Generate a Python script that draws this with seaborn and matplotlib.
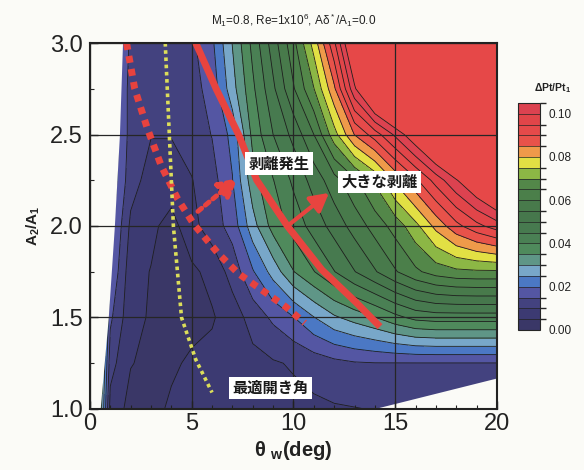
import numpy as np
import matplotlib
matplotlib.use("Agg")
import matplotlib.pyplot as plt
import seaborn as sns
from matplotlib.colors import ListedColormap, BoundaryNorm
from matplotlib.cm import ScalarMappable
from matplotlib.ticker import MultipleLocator

# ---------------- data ----------------
theta_deg = [0, 1, 2, 3, 4, 5, 6, 7, 8, 9, 10, 11, 12, 13, 14, 15, 16, 17, 18, 19, 20]
area_ratio = [1.0, 1.25, 1.5, 1.75, 2.0, 2.25, 2.5, 2.75, 3.0]

dpt_a100 = [0.060, 0.008, 0.0035, 0.004, 0.0055, 0.006, 0.0065, 0.007, 0.0075, 0.008, 0.0085,
            0.009, 0.0095, 0.0098, 0.0102, 0.0105, 0.0105, 0.0105, 0.0105, 0.0105, 0.0105]
dpt_a125 = [0.060, 0.012, 0.0052, 0.004, 0.0045, 0.0055, 0.0065, 0.0075, 0.0085, 0.0095, 0.0105,
            0.012, 0.0135, 0.0145, 0.0148, 0.0148, 0.0148, 0.0148, 0.0148, 0.0148, 0.0148]
dpt_a150 = [0.060, 0.016, 0.0065, 0.0045, 0.004, 0.004, 0.0045, 0.0075, 0.012, 0.016, 0.0198,
            0.0248, 0.0292, 0.032, 0.0348, 0.0385, 0.0415, 0.0424, 0.0424, 0.0424, 0.0424]
dpt_a175 = [0.060, 0.020, 0.007, 0.0048, 0.0035, 0.004, 0.0065, 0.012, 0.0195, 0.027, 0.0348,
            0.0398, 0.0448, 0.0498, 0.0545, 0.0595, 0.064, 0.0672, 0.0688, 0.0692, 0.0692]
dpt_a200 = [0.060, 0.022, 0.009, 0.0062, 0.003, 0.0085, 0.0125, 0.017, 0.028, 0.037, 0.042,
            0.047, 0.052, 0.057, 0.062, 0.067, 0.0735, 0.0815, 0.0885, 0.0935, 0.0975]
dpt_a225 = [0.060, 0.024, 0.012, 0.008, 0.008, 0.0098, 0.013, 0.0198, 0.033, 0.0398, 0.046,
            0.052, 0.058, 0.064, 0.071, 0.081, 0.089, 0.097, 0.1045, 0.112, 0.120]
dpt_a250 = [0.060, 0.025, 0.013, 0.0102, 0.0102, 0.012, 0.0152, 0.0215, 0.0365, 0.045, 0.0515,
            0.060, 0.073, 0.0852, 0.0925, 0.101, 0.110, 0.120, 0.130, 0.130, 0.130]
dpt_a275 = [0.060, 0.025, 0.013, 0.0105, 0.0105, 0.013, 0.017, 0.028, 0.039, 0.049, 0.0595,
            0.0698, 0.084, 0.104, 0.120, 0.130, 0.130, 0.130, 0.130, 0.130, 0.130]
dpt_a300 = [0.060, 0.025, 0.014, 0.011, 0.011, 0.014, 0.019, 0.0302, 0.0415, 0.0525, 0.0635,
            0.077, 0.094, 0.115, 0.130, 0.130, 0.130, 0.130, 0.130, 0.130, 0.130]

# limits of the computed domain (outside = no data)
left_edge_area = [1.0, 1.5, 2.0, 2.5, 3.0]
left_edge_theta = [0.5, 0.9, 1.2, 1.45, 1.6]
gap_theta = [13.9, 20.0]
gap_area_top = [1.0, 1.17]

# separation-onset line (dotted), large separation line (solid), optimum angle line
onset_theta = [1.8, 2.2, 2.8, 3.5, 4.3, 5.1, 6.3, 7.3, 8.45, 9.6, 10.55]
onset_area = [3.0, 2.75, 2.54, 2.33, 2.15, 2.01, 1.85, 1.74, 1.65, 1.56, 1.47]
large_theta = [5.2, 6.2, 7.3, 8.2, 9.7, 11.4, 13.1, 14.25]
large_area = [3.0, 2.75, 2.5, 2.25, 2.0, 1.76, 1.58, 1.45]
optimum_theta = [3.7, 3.9, 4.1, 4.5, 5.2, 6.0]
optimum_area = [3.0, 2.5, 2.0, 1.5, 1.27, 1.09]

label_texts = ["剥離発生", "大きな剥離", "最適開き角"]
label_theta = [9.3, 14.25, 8.85]
label_area = [2.34, 2.24, 1.115]
arrow_tail_theta = [5.2, 9.7]
arrow_tail_area = [2.07, 2.0]
arrow_head_theta = [7.35, 11.85]
arrow_head_area = [2.27, 2.19]

cbar_ticks = [0.00, 0.02, 0.04, 0.06, 0.08, 0.10]

# ---------------- style ----------------
sns.set_theme(style="ticks")
plt.rcParams["font.family"] = ["Liberation Sans", "DejaVu Sans"]
plt.rcParams["mathtext.fontset"] = "custom"
plt.rcParams["mathtext.rm"] = "Liberation Sans"
plt.rcParams["mathtext.it"] = "Liberation Sans:italic"
plt.rcParams["mathtext.bf"] = "Liberation Sans:bold"

bg = "#fbfbf7"
band_colors = ['#3a3767', '#3c3a72', '#43427f', '#5456a3', '#4b78c4', '#78a7c9', '#5f9687',
               '#4f8a5c', '#4a8054', '#477a4f', '#46774c', '#487a4b', '#4b7f4a', '#538749',
               '#8cb745', '#e2e044', '#ef9a4a', '#e8524a', '#e54a4a', '#e14549', '#dc4250']
over_color = '#e64848'
levels = [round(0.005 * i, 3) for i in range(22)]  # 0 .. 0.105

fig = plt.figure(figsize=(5.84, 4.70), dpi=100, facecolor=bg)
ax = fig.add_axes([0.154, 0.1298, 0.697, 0.7787])
ax.set_facecolor(bg)

Z = np.array([dpt_a100, dpt_a125, dpt_a150, dpt_a175, dpt_a200,
              dpt_a225, dpt_a250, dpt_a275, dpt_a300])
T, A = np.meshgrid(theta_deg, area_ratio)

cf = ax.contourf(T, A, Z, levels=levels + [1.0], colors=band_colors + [over_color], zorder=1)
cl = ax.contour(T, A, Z, levels=levels[1:], colors='#1e1e1e', linewidths=0.6, zorder=2)

# no-data regions
ax.fill_betweenx(left_edge_area, 0, left_edge_theta, color=bg, lw=0, zorder=2.1)
ax.fill_between(gap_theta, 1.0, gap_area_top, color=bg, lw=0, zorder=2.1)

ax.set_xlim(0, 20)
ax.set_ylim(1.0, 3.0)
ax.xaxis.set_major_locator(MultipleLocator(5))
ax.xaxis.set_minor_locator(MultipleLocator(1))
ax.yaxis.set_major_locator(MultipleLocator(0.5))
ax.yaxis.set_minor_locator(MultipleLocator(0.25))
ax.yaxis.set_major_formatter(matplotlib.ticker.FormatStrFormatter('%.1f'))
ax.tick_params(which='major', direction='in', length=6, width=1, labelsize=17,
               colors='#222222', pad=3)
ax.tick_params(which='minor', direction='in', length=3, width=0.8, colors='#222222')
ax.tick_params(axis='y', which='major', pad=5)
ax.grid(True, which='major', color='#262626', lw=0.9)
ax.set_axisbelow(False)
for s in ax.spines.values():
    s.set_linewidth(1.5)
    s.set_color('#222222')
    s.set_zorder(6)

# lines
ax.plot(onset_theta, onset_area, color='#e8423e', lw=5, linestyle=(0, (1.0, 0.9)),
        dash_capstyle='butt', zorder=4)
ax.plot(large_theta, large_area, color='#e8443f', lw=5, solid_capstyle='butt', zorder=4)
ax.plot(optimum_theta, optimum_area, color='#dcde5a', lw=2.6, linestyle=(0, (1.0, 1.0)),
        dash_capstyle='butt', zorder=4)

# arrows
ax.annotate("", xy=(arrow_head_theta[0], arrow_head_area[0]),
            xytext=(arrow_tail_theta[0], arrow_tail_area[0]),
            arrowprops=dict(arrowstyle='-|>,head_length=0.9,head_width=0.5', color='#e8423e',
                            lw=3.5, linestyle=(0, (1.0, 1.0))), zorder=5)
ax.annotate("", xy=(arrow_head_theta[1], arrow_head_area[1]),
            xytext=(arrow_tail_theta[1], arrow_tail_area[1]),
            arrowprops=dict(arrowstyle='-|>,head_length=0.9,head_width=0.5', color='#e8443f',
                            lw=3), zorder=5)

for txt, tx, ty in zip(label_texts, label_theta, label_area):
    ax.text(tx, ty, txt, ha='center', va='center', fontsize=11, fontweight='bold',
            family=['Noto Sans CJK JP', 'DejaVu Sans'], color='#1a1a1a', zorder=7,
            bbox=dict(boxstyle='square,pad=0.22', fc='white', ec='none'))

ax.set_title('M$_1$=0.8, Re=1x10$^6$, Aδ$^*$/A$_1$=0.0', fontsize=8.5, pad=13, color='#222222')
ax.set_xlabel('θ $_{\\mathbf{w}}$(deg)', fontsize=14.5, fontweight='bold', labelpad=3,
              color='#222222')
ax.set_ylabel('A$_\\mathbf{2}$/A$_\\mathbf{1}$', fontsize=11, fontweight='bold', labelpad=6,
              color='#222222')

# colorbar
cax = fig.add_axes([0.887, 0.298, 0.038, 0.483])
cmap = ListedColormap(band_colors)
norm = BoundaryNorm(levels, cmap.N)
sm = ScalarMappable(norm=norm, cmap=cmap)
cbar = fig.colorbar(sm, cax=cax, ticks=cbar_ticks, format='%.2f')
cbar.add_lines(levels[1:-1], ['#222222'] * (len(levels) - 2), [0.5] * (len(levels) - 2))
cax.tick_params(length=0, labelsize=8.5, pad=6, colors='#222222')
cbar.outline.set_linewidth(0.8)
fig.text(0.947, 0.813, 'ΔPt/Pt$_\\mathbf{1}$', ha='center', va='center', fontsize=7.5,
         fontweight='bold', color='#222222')

fig.savefig('out.png', dpi=100, facecolor=bg)
